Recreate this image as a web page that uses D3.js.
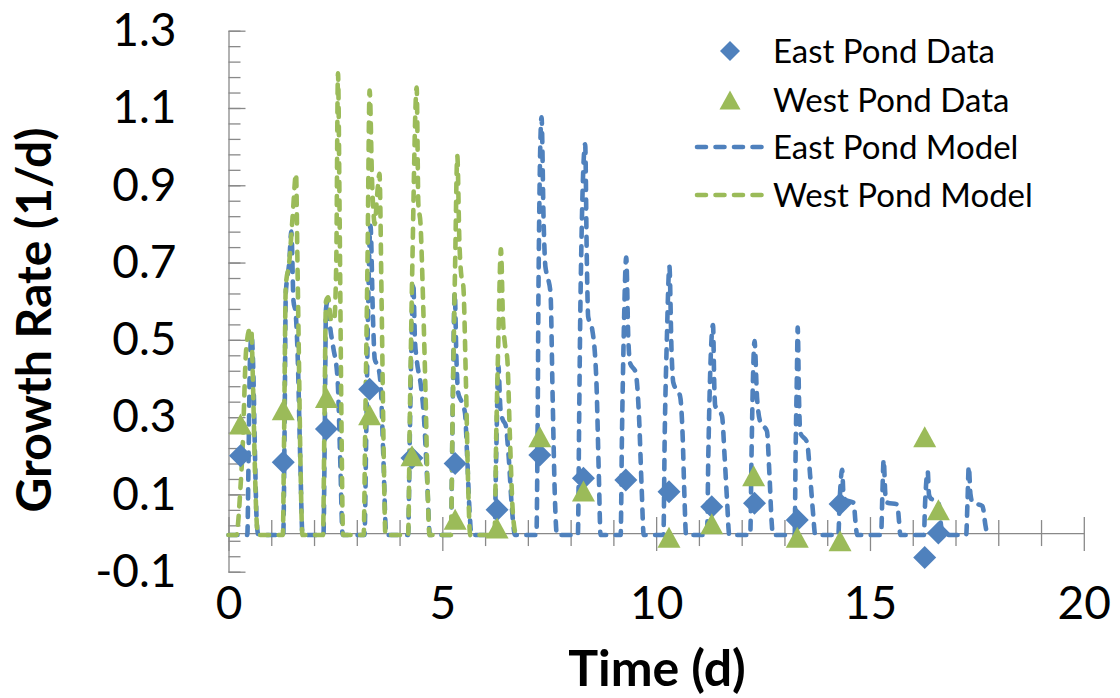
<!DOCTYPE html>
<html>
<head>
<meta charset="utf-8">
<script src="https://cdn.jsdelivr.net/npm/d3@7"></script>
<style>
  html, body { margin: 0; padding: 0; background: #fff; }
  svg { display: block; }
</style>
</head>
<body>
<svg id="chart" width="1120" height="698"></svg>
<script>
// Measured specific growth rates (1/d)
const eastTime = [0.28, 1.28, 2.29, 3.30, 4.29, 5.30, 6.28, 7.28, 8.30, 9.29, 10.30, 11.30, 12.30, 13.30, 14.30, 16.28, 16.60];
const eastRate = [0.200, 0.183, 0.269, 0.372, 0.194, 0.180, 0.060, 0.202, 0.142, 0.137, 0.107, 0.068, 0.077, 0.034, 0.075, -0.063, 0.000];
const westTime = [0.28, 1.28, 2.29, 3.30, 4.29, 5.30, 6.28, 7.28, 8.30, 10.30, 11.30, 12.28, 13.30, 14.30, 16.28, 16.60];
const westRate = [0.282, 0.319, 0.351, 0.306, 0.200, 0.036, 0.013, 0.249, 0.109, -0.011, 0.024, 0.148, -0.011, -0.020, 0.249, 0.060];

// Modelled growth rate, [time (d), rate (1/d)]
const eastModel = [
  [0, -0.005], [0.44, -0.005], [0.47, 0.2], [0.5, 0.44], [0.54, 0.51], [0.58, 0.42], [0.62, 0.2], [0.66, 0.03], [0.7, -0.005],
  [1.28, -0.005], [1.31, 0.25], [1.34, 0.62], [1.42, 0.7], [1.47, 0.78], [1.52, 0.6], [1.57, 0.57], [1.62, 0.45], [1.68, 0.18], [1.73, -0.005],
  [2.22, -0.005], [2.25, 0.25], [2.28, 0.58], [2.32, 0.6], [2.38, 0.53], [2.45, 0.48], [2.55, 0.4], [2.61, 0.2], [2.67, -0.005],
  [3.18, -0.005], [3.22, 0.25], [3.26, 0.55], [3.32, 0.795], [3.38, 0.55], [3.42, 0.45], [3.5, 0.43], [3.56, 0.38], [3.62, 0.2], [3.69, -0.005],
  [4.2, -0.005], [4.24, 0.25], [4.28, 0.5], [4.32, 0.648], [4.36, 0.5], [4.4, 0.45], [4.5, 0.38], [4.57, 0.3], [4.64, 0.15], [4.71, -0.005],
  [5.2, -0.005], [5.24, 0.3], [5.29, 0.622], [5.33, 0.45], [5.37, 0.363], [5.45, 0.34], [5.53, 0.311], [5.58, 0.2], [5.64, 0.05], [5.68, -0.005],
  [6.22, -0.005], [6.26, 0.2], [6.31, 0.432], [6.36, 0.32], [6.41, 0.294], [6.48, 0.28], [6.55, 0.2], [6.63, 0.06], [6.7, -0.005],
  [7.2, -0.005], [7.23, 0.3], [7.25, 0.65], [7.32, 1.076], [7.37, 0.8], [7.41, 0.69], [7.47, 0.66], [7.53, 0.62], [7.58, 0.35], [7.63, 0.1], [7.68, -0.005],
  [8.17, -0.005], [8.2, 0.3], [8.23, 0.6], [8.34, 1.006], [8.38, 0.7], [8.41, 0.56], [8.5, 0.53], [8.6, 0.4], [8.66, 0.15], [8.7, -0.005],
  [9.17, -0.005], [9.2, 0.25], [9.24, 0.5], [9.3, 0.713], [9.35, 0.5], [9.39, 0.44], [9.52, 0.416], [9.6, 0.3], [9.66, 0.12], [9.71, -0.005],
  [10.17, -0.005], [10.2, 0.25], [10.25, 0.5], [10.31, 0.69], [10.36, 0.47], [10.4, 0.39], [10.56, 0.354], [10.62, 0.25], [10.66, 0.1], [10.7, -0.005],
  [11.19, -0.005], [11.22, 0.2], [11.26, 0.4], [11.33, 0.538], [11.36, 0.38], [11.38, 0.33], [11.54, 0.303], [11.6, 0.2], [11.66, 0.08], [11.71, -0.005],
  [12.2, -0.005], [12.23, 0.2], [12.26, 0.38], [12.3, 0.497], [12.36, 0.35], [12.44, 0.286], [12.59, 0.264], [12.65, 0.15], [12.7, 0.03], [12.73, -0.005],
  [13.24, -0.005], [13.26, 0.2], [13.29, 0.4], [13.31, 0.532], [13.34, 0.35], [13.37, 0.26], [13.53, 0.234], [13.6, 0.15], [13.67, 0.05], [13.72, -0.005],
  [14.26, -0.005], [14.29, 0.08], [14.35, 0.164], [14.38, 0.1], [14.42, 0.087], [14.62, 0.078], [14.66, 0.03], [14.7, -0.005],
  [15.26, -0.005], [15.29, 0.1], [15.32, 0.19], [15.36, 0.1], [15.4, 0.079], [15.64, 0.074], [15.68, 0.03], [15.71, -0.005],
  [16.26, -0.005], [16.29, 0.08], [16.35, 0.16], [16.38, 0.1], [16.42, 0.09], [16.6, 0.08], [16.65, 0.03], [16.7, -0.005],
  [17.25, -0.005], [17.28, 0.08], [17.31, 0.173], [17.35, 0.1], [17.4, 0.079], [17.63, 0.07], [17.7, 0.02], [17.74, -0.005]
];
const westModel = [
  [0, -0.005], [0.19, -0.005], [0.22, 0.02], [0.27, 0.1], [0.33, 0.22], [0.41, 0.47], [0.49, 0.527], [0.53, 0.53], [0.57, 0.4], [0.61, 0.2], [0.65, 0.05], [0.69, -0.005],
  [1.27, -0.005], [1.3, 0.25], [1.34, 0.64], [1.42, 0.7], [1.5, 0.82], [1.58, 0.93], [1.61, 0.72], [1.64, 0.5], [1.68, 0.2], [1.73, -0.005],
  [2.21, -0.005], [2.24, 0.25], [2.28, 0.6], [2.33, 0.61], [2.4, 0.55], [2.47, 0.55], [2.52, 0.7], [2.56, 1.19], [2.6, 0.8], [2.64, 0.3], [2.68, -0.005],
  [3.16, -0.005], [3.2, 0.3], [3.25, 0.7], [3.3, 1.145], [3.36, 0.9], [3.42, 0.8], [3.48, 0.88], [3.53, 0.93], [3.58, 0.6], [3.63, 0.2], [3.67, -0.005],
  [4.2, -0.005], [4.24, 0.3], [4.3, 0.7], [4.4, 1.153], [4.44, 0.85], [4.49, 0.8], [4.55, 0.6], [4.61, 0.35], [4.66, 0.1], [4.7, -0.005],
  [5.2, -0.005], [5.24, 0.3], [5.3, 0.7], [5.35, 0.976], [5.4, 0.75], [5.45, 0.66], [5.49, 0.64], [5.55, 0.4], [5.61, 0.1], [5.65, -0.005],
  [6.22, -0.005], [6.26, 0.25], [6.31, 0.5], [6.37, 0.734], [6.42, 0.55], [6.46, 0.493], [6.52, 0.45], [6.58, 0.25], [6.65, 0.05], [6.72, -0.005]
];

// Axis ticks
const xMajorTicks = [0, 5, 10, 15, 20];
const xMinorTicks = [1, 2, 3, 4, 6, 7, 8, 9, 11, 12, 13, 14, 16, 17, 18, 19];
const yMajorTicks = [-0.1, 0.1, 0.3, 0.5, 0.7, 0.9, 1.1, 1.3];
const yMinorTicks = d3.range(0, 36).map(k => +(-0.1 + 0.04 * k).toFixed(2));

const legendItems = ["East Pond Data", "West Pond Data", "East Pond Model", "West Pond Model"];

const BLUE = "#4F81BD", GREEN = "#9BBB59", AXIS = "#898989";
const FONT = "Lato, 'Open Sans', sans-serif";

const svg = d3.select("#chart");
const x = d3.scaleLinear().domain([0, 20]).range([228.5, 1083.8]);
const y = d3.scaleLinear().domain([-0.1, 1.3]).range([571.7, 30.7]);

// ---- y axis (ticks point into the plot) ----
const yMinorAxis = svg.append("g").attr("transform", `translate(${x(0)},0)`)
  .call(d3.axisLeft(y).tickValues(yMinorTicks).tickSize(-12).tickFormat(""));
yMinorAxis.select(".domain").remove();
const yAxis = svg.append("g").attr("transform", `translate(${x(0)},0)`)
  .call(d3.axisLeft(y).tickValues(yMajorTicks).tickSizeInner(-17).tickSizeOuter(0)
    .tickPadding(52).tickFormat(d => d.toFixed(1)));
svg.selectAll("g .domain").attr("stroke", AXIS).attr("stroke-width", 1.3);
yMinorAxis.selectAll("line").attr("stroke", AXIS).attr("stroke-width", 1.3);
yAxis.selectAll("line").attr("stroke", AXIS).attr("stroke-width", 1.3);
yAxis.selectAll("text").attr("font-family", FONT).attr("font-size", 46).attr("fill", "#000");

// ---- x axis along rate = 0 (ticks cross the line) ----
const xMinorAxis = svg.append("g").attr("transform", `translate(0,${y(0)})`)
  .call(d3.axisBottom(x).tickValues(xMinorTicks).tickSize(13).tickFormat(""));
xMinorAxis.select(".domain").remove();
xMinorAxis.selectAll("line").attr("y1", -13).attr("stroke", AXIS).attr("stroke-width", 1.3);
const xAxis = svg.append("g").attr("transform", `translate(0,${y(0)})`)
  .call(d3.axisBottom(x).tickValues(xMajorTicks).tickSizeInner(18).tickSizeOuter(0)
    .tickPadding(35).tickFormat(d3.format("d")));
xAxis.select(".domain").attr("stroke", AXIS).attr("stroke-width", 1.3);
xAxis.selectAll("line").attr("y1", -16).attr("stroke", AXIS).attr("stroke-width", 1.3);
xAxis.selectAll("text").attr("font-family", FONT).attr("font-size", 46).attr("fill", "#000");

// ---- axis titles ----
svg.append("text").attr("x", 657).attr("y", 686).attr("text-anchor", "middle")
  .attr("font-family", FONT).attr("font-weight", 700).attr("font-size", 50).attr("fill", "#000")
  .text("Time (d)");
svg.append("text").attr("transform", "translate(51,320) rotate(-90)").attr("text-anchor", "middle")
  .attr("font-family", FONT).attr("font-weight", 700).attr("font-size", 48).attr("fill", "#000")
  .text("Growth Rate (1/d)");

// ---- model lines ----
const line = d3.line().x(d => x(d[0])).y(d => y(d[1])).curve(d3.curveMonotoneX);
const dashStyle = sel => sel.attr("fill", "none").attr("stroke-width", 4.6)
  .attr("stroke-linecap", "round").attr("stroke-linejoin", "round").attr("stroke-dasharray", "9,9.5");
svg.append("path").datum(eastModel).attr("d", line).attr("stroke", BLUE).call(dashStyle);
svg.append("path").datum(westModel).attr("d", line).attr("stroke", GREEN).call(dashStyle);

// ---- markers ----
const diamond = (cx, cy, r) => `M${cx},${cy - r}L${cx + r},${cy}L${cx},${cy + r}L${cx - r},${cy}Z`;
const triangle = (cx, cy, w, h) => `M${cx},${cy - h / 2}L${cx + w / 2},${cy + h / 2}L${cx - w / 2},${cy + h / 2}Z`;

svg.append("g").selectAll("path").data(eastTime).join("path")
  .attr("d", (t, i) => diamond(x(t), y(eastRate[i]), 11.5)).attr("fill", BLUE);
svg.append("g").selectAll("path").data(westTime).join("path")
  .attr("d", (t, i) => triangle(x(t), y(westRate[i]), 23, 21)).attr("fill", GREEN);

// ---- legend ----
const legend = svg.append("g");
const rowY = [51, 100, 147, 195];
legend.append("path").attr("d", diamond(730, rowY[0], 10)).attr("fill", BLUE);
legend.append("path").attr("d", triangle(730, rowY[1], 21, 19)).attr("fill", GREEN);
legend.append("line").attr("x1", 697).attr("x2", 765).attr("y1", rowY[2]).attr("y2", rowY[2])
  .attr("stroke", BLUE).call(dashStyle);
legend.append("line").attr("x1", 697).attr("x2", 765).attr("y1", rowY[3]).attr("y2", rowY[3])
  .attr("stroke", GREEN).call(dashStyle);
legend.selectAll("text").data(legendItems).join("text")
  .attr("x", 773).attr("y", (d, i) => rowY[i] + 11.5)
  .attr("font-family", FONT).attr("font-size", 33).attr("fill", "#000")
  .text(d => d);
</script>
</body>
</html>
